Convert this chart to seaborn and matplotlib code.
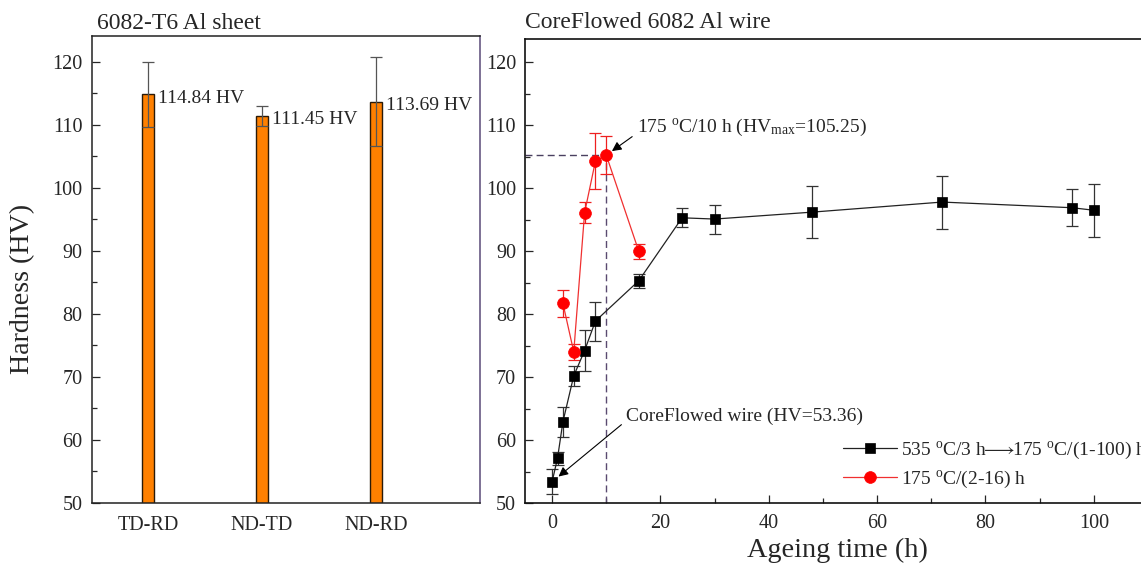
import numpy as np
import pandas as pd
import matplotlib
matplotlib.use('Agg')
import matplotlib.pyplot as plt
from matplotlib.ticker import MultipleLocator
import seaborn as sns

# ---------------- data ----------------
sheet_dirs = ['TD-RD', 'ND-TD', 'ND-RD']
sheet_hv = [114.84, 111.45, 113.69]
sheet_err = [5.2, 1.6, 7.1]

ht_time = [0, 1, 2, 4, 6, 8, 16, 24, 30, 48, 72, 96, 100]
ht_hv = [53.36, 57.1, 62.9, 70.2, 74.2, 78.9, 85.3, 95.3, 95.1, 96.2, 97.8, 96.9, 96.5]
ht_err = [2.0, 1.0, 2.4, 1.6, 3.3, 3.1, 1.1, 1.5, 2.3, 4.1, 4.2, 2.9, 4.2]

ag_time = [2, 4, 6, 8, 10, 16]
ag_hv = [81.7, 74.0, 96.1, 104.3, 105.25, 90.0]
ag_err = [2.2, 1.3, 1.7, 4.5, 3.0, 1.2]

ht_label = r'535 $^{\rm o}$C/3 h$\!\!\longrightarrow\!\!$175 $^{\rm o}$C/(1-100) h'
ag_label = r'175 $^{\rm o}$C/(2-16) h'
left_title = '6082-T6 Al sheet'
right_title = 'CoreFlowed 6082 Al wire'
y_label = 'Hardness (HV)'
x_label = 'Ageing time (h)'
x_ticks = [0, 20, 40, 60, 80, 100]

# ---------------- style ----------------
sns.set_style('ticks')
FAM = ['Liberation Serif', 'DejaVu Serif']
plt.rcParams['font.family'] = FAM
plt.rcParams['mathtext.fontset'] = 'custom'
plt.rcParams['mathtext.rm'] = 'Liberation Serif'
plt.rcParams['mathtext.it'] = 'Liberation Serif:italic'
plt.rcParams['mathtext.bf'] = 'Liberation Serif:bold'
plt.rcParams['mathtext.fallback'] = 'stix'

W, H = 1141, 567
fig = plt.figure(figsize=(W / 100, H / 100), dpi=100)
fig.patch.set_facecolor('white')
ax1 = fig.add_axes([92 / W, 1 - 503 / H, 388 / W, 467 / H])
ax2 = fig.add_axes([525 / W, 1 - 503 / H, 623 / W, 464 / H])

TICK_FS = 14.5
ANN_FS = 14

# ---------------- left panel ----------------
df_sheet = pd.DataFrame({'dir': sheet_dirs, 'hv': sheet_hv})
sns.barplot(data=df_sheet, x='dir', y='hv', ax=ax1, width=0.1, color='#FF8000',
            edgecolor='#2b1a08', linewidth=1.0, saturation=1, errorbar=None)
ax1.errorbar(np.arange(len(sheet_hv)), sheet_hv, yerr=sheet_err, fmt='none',
             ecolor='#555555', elinewidth=0.9, capsize=4, capthick=0.9, zorder=5)
for i, v in enumerate(sheet_hv):
    ax1.text(i + 0.085, v - 0.6, f'{v:.2f} HV', ha='left', va='center', fontsize=ANN_FS)
ax1.set_xlim(-0.49, 2.91)
ax1.set_ylim(50, 124.1)
ax1.yaxis.set_major_locator(MultipleLocator(10))
ax1.yaxis.set_minor_locator(MultipleLocator(5))
ax1.tick_params(axis='y', which='major', direction='in', length=6, width=0.9,
                labelsize=TICK_FS, pad=7)
ax1.tick_params(axis='y', which='minor', direction='in', length=3.5, width=0.9)
ax1.tick_params(axis='x', which='both', length=0, labelsize=TICK_FS, pad=9)
ax1.set_xlabel('')
ax1.set_ylabel('')
for s in ax1.spines.values():
    s.set_visible(True)
    s.set_linewidth(1.1)
    s.set_color('#222222')
ax1.spines['right'].set_color('#5a4a78')

# ---------------- right panel ----------------
df_ht = pd.DataFrame({'t': ht_time, 'hv': ht_hv})
df_ag = pd.DataFrame({'t': ag_time, 'hv': ag_hv})

ax2.errorbar(ht_time, ht_hv, yerr=ht_err, fmt='none', ecolor='#333333',
             elinewidth=0.9, capsize=4, capthick=0.9, zorder=2)
ax2.errorbar(ag_time, ag_hv, yerr=ag_err, fmt='none', ecolor='#ee2020',
             elinewidth=0.9, capsize=4, capthick=0.9, zorder=2)

sns.lineplot(data=df_ht, x='t', y='hv', ax=ax2, color='#222222', marker='s',
             markersize=7.5, markerfacecolor='black', markeredgecolor='black',
             markeredgewidth=0.5, linewidth=0.9, label=ht_label, zorder=3)
sns.lineplot(data=df_ag, x='t', y='hv', ax=ax2, color='#f03030', marker='o',
             markersize=8.5, markerfacecolor='#ff0000', markeredgecolor='#ff0000',
             markeredgewidth=0.5, linewidth=0.9, label=ag_label, zorder=4)

ax2.set_xlim(-5, 110)
ax2.set_ylim(50, 123.7)

# peak reference lines
ipk = int(np.argmax(ag_hv))
pk_x, pk_y = ag_time[ipk], ag_hv[ipk]
ax2.hlines(pk_y, -5, pk_x, colors='#4a4060', linestyles=(0, (5, 3)), linewidth=1.0, zorder=1)
ax2.vlines(pk_x, 50, pk_y, colors='#5a4a70', linestyles=(0, (5, 3)), linewidth=1.0, zorder=1)

ax2.annotate(r'175 $^{\rm o}$C/%d h (HV$_{\rm max}$=%.2f)' % (pk_x, pk_y),
             xy=(pk_x, pk_y), xytext=(15.6, 109.7), ha='left', va='center',
             fontsize=ANN_FS,
             arrowprops=dict(arrowstyle='-|>', color='black', lw=0.8,
                             mutation_scale=14, shrinkA=1, shrinkB=5,
                             relpos=(0.0, 0.2)))
ax2.annotate(f'CoreFlowed wire (HV={ht_hv[0]:.2f})',
             xy=(ht_time[0], ht_hv[0]), xytext=(13.6, 63.7), ha='left', va='center',
             fontsize=ANN_FS,
             arrowprops=dict(arrowstyle='-|>', color='black', lw=0.8,
                             mutation_scale=14, shrinkA=1, shrinkB=6,
                             relpos=(0.0, 0.25)))

ax2.set_xticks(x_ticks)
ax2.xaxis.set_minor_locator(MultipleLocator(10))
ax2.yaxis.set_major_locator(MultipleLocator(10))
ax2.yaxis.set_minor_locator(MultipleLocator(5))
ax2.tick_params(which='major', direction='in', length=6, width=0.9,
                labelsize=TICK_FS)
ax2.tick_params(which='minor', direction='in', length=3.5, width=0.9)
ax2.tick_params(axis='x', pad=8)
ax2.tick_params(axis='y', pad=6.5)
ax2.set_xlabel('')
ax2.set_ylabel('')
for s in ax2.spines.values():
    s.set_visible(True)
    s.set_linewidth(1.2)
    s.set_color('#111111')

leg = ax2.legend(loc='center left', bbox_to_anchor=(843 / W, 1 - 465 / H),
                 bbox_transform=fig.transFigure, frameon=False, fontsize=ANN_FS,
                 handlelength=2.8, handletextpad=0.2, labelspacing=0.4,
                 borderpad=0, borderaxespad=0)

# ---------------- titles / labels ----------------
fig.text(97 / W, 1 - 23.5 / H, left_title, ha='left', va='center', fontsize=17)
fig.text(525 / W, 1 - 22 / H, right_title, ha='left', va='center', fontsize=17)
fig.text(23 / W, 1 - 289 / H, y_label, rotation=90, ha='center', va='center', fontsize=20.2)
fig.text(837 / W, 1 - 550 / H, x_label, ha='center', va='center', fontsize=20.3)

fig.savefig('out.png', dpi=100, facecolor='white')
